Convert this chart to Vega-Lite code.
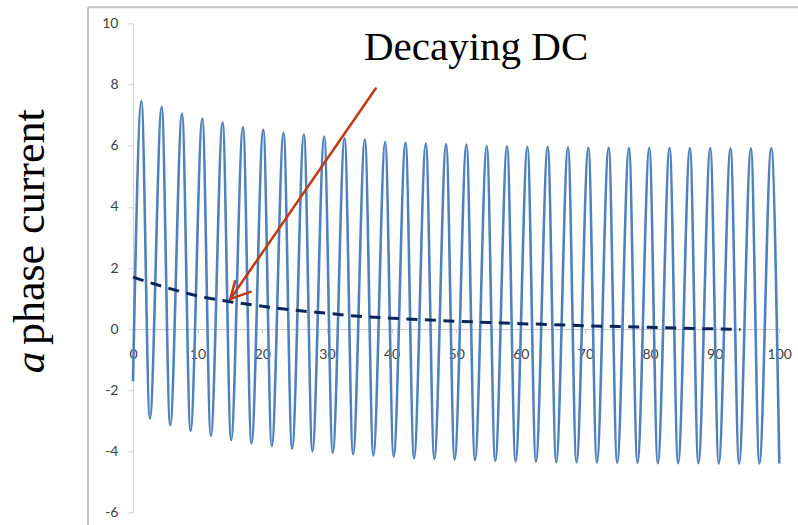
{
  "$schema": "https://vega.github.io/schema/vega-lite/v6.json",
  "autosize": {"type": "none"},
  "padding": {"left": 133, "top": 23.3, "right": 18.7, "bottom": 12.3},
  "width": 646.3,
  "height": 489.4,
  "background": "white",
  "config": {"view": {"stroke": null}},
  "datasets": {
    "wave": [
      {"t": 0, "i": -1.7},
      {"t": 1.30, "i": 7.46}, {"t": 2.61, "i": -2.92},
      {"t": 4.44, "i": 7.27}, {"t": 5.75, "i": -3.14},
      {"t": 7.59, "i": 7.05}, {"t": 8.90, "i": -3.33},
      {"t": 10.73, "i": 6.89}, {"t": 12.04, "i": -3.49},
      {"t": 13.87, "i": 6.76}, {"t": 15.18, "i": -3.63},
      {"t": 17.02, "i": 6.61}, {"t": 18.33, "i": -3.74},
      {"t": 20.16, "i": 6.53}, {"t": 21.47, "i": -3.82},
      {"t": 23.30, "i": 6.42}, {"t": 24.61, "i": -3.91},
      {"t": 26.45, "i": 6.37}, {"t": 27.76, "i": -3.99},
      {"t": 29.59, "i": 6.30}, {"t": 30.90, "i": -4.04},
      {"t": 32.74, "i": 6.24}, {"t": 34.05, "i": -4.09},
      {"t": 35.88, "i": 6.20}, {"t": 37.19, "i": -4.13},
      {"t": 39.02, "i": 6.12}, {"t": 40.33, "i": -4.17},
      {"t": 42.17, "i": 6.10}, {"t": 43.48, "i": -4.22},
      {"t": 45.31, "i": 6.07}, {"t": 46.62, "i": -4.24},
      {"t": 48.45, "i": 6.05}, {"t": 49.76, "i": -4.26},
      {"t": 51.60, "i": 6.04}, {"t": 52.91, "i": -4.28},
      {"t": 54.74, "i": 5.99}, {"t": 56.05, "i": -4.31},
      {"t": 57.88, "i": 5.99}, {"t": 59.19, "i": -4.32},
      {"t": 61.03, "i": 5.96}, {"t": 62.34, "i": -4.33},
      {"t": 64.17, "i": 5.96}, {"t": 65.48, "i": -4.35},
      {"t": 67.31, "i": 5.95}, {"t": 68.62, "i": -4.35},
      {"t": 70.46, "i": 5.94}, {"t": 71.77, "i": -4.36},
      {"t": 73.60, "i": 5.94}, {"t": 74.91, "i": -4.37},
      {"t": 76.74, "i": 5.93}, {"t": 78.05, "i": -4.37},
      {"t": 79.89, "i": 5.93}, {"t": 81.20, "i": -4.38},
      {"t": 83.03, "i": 5.93}, {"t": 84.34, "i": -4.38},
      {"t": 86.17, "i": 5.92}, {"t": 87.48, "i": -4.38},
      {"t": 89.32, "i": 5.92}, {"t": 90.63, "i": -4.39},
      {"t": 92.46, "i": 5.91}, {"t": 93.77, "i": -4.39},
      {"t": 95.61, "i": 5.91}, {"t": 96.92, "i": -4.39},
      {"t": 98.75, "i": 5.91}, {"t": 100.0, "i": -4.39}
    ],
    "dc": [
      {"t": 0, "v": 1.70}, {"t": 5, "v": 1.37}, {"t": 10, "v": 1.09},
      {"t": 15, "v": 0.90}, {"t": 20, "v": 0.75}, {"t": 25, "v": 0.62},
      {"t": 30, "v": 0.52}, {"t": 35, "v": 0.42}, {"t": 40, "v": 0.36},
      {"t": 45, "v": 0.31}, {"t": 50, "v": 0.26}, {"t": 55, "v": 0.22},
      {"t": 60, "v": 0.18}, {"t": 65, "v": 0.15}, {"t": 70, "v": 0.11},
      {"t": 75, "v": 0.09}, {"t": 80, "v": 0.06}, {"t": 85, "v": 0.03},
      {"t": 90, "v": 0.01}, {"t": 94, "v": -0.01}
    ],
    "arrow": [
      {"x": 37.55, "y": 7.87, "x2": 15.07, "y2": 0.99},
      {"x": 15.07, "y": 0.99, "x2": 15.78, "y2": 1.57},
      {"x": 15.07, "y": 0.99, "x2": 18.21, "y2": 1.22}
    ],
    "frame": [
      {"x": -6.963, "y": 10.526, "x2": -6.963, "y2": -6.41},
      {"x": -6.963, "y": 10.526, "x2": 102.9, "y2": 10.526}
    ],
    "note": [
      {"label": "Decaying DC", "x": 35.74, "y": 8.794}
    ],
    "ytitle_a": [
      {"label": "a", "x": -13.8, "y": -1.44}
    ],
    "ytitle_rest": [
      {"label": "phase current", "x": -13.8, "y": -0.52}
    ]
  },
  "layer": [
    {
      "data": {"name": "frame"},
      "mark": {"type": "rule", "color": "#c4c4c4", "strokeWidth": 2},
      "encoding": {
        "x": {"field": "x", "type": "quantitative", "scale": {"domain": [0, 100], "nice": false, "zero": false}},
        "y": {"field": "y", "type": "quantitative", "scale": {"domain": [-6, 10], "nice": false, "zero": false}},
        "x2": {"field": "x2"},
        "y2": {"field": "y2"}
      }
    },
    {
      "data": {"name": "wave"},
      "mark": {"type": "line", "color": "#4F81BD", "strokeWidth": 2.6, "interpolate": "monotone"},
      "encoding": {
        "x": {
          "field": "t", "type": "quantitative",
          "axis": {
            "title": null, "offset": -183.7, "values": [0,10,20,30,40,50,60,70,80,90,100],
            "domainColor": "#c8c8c8", "tickColor": "#c8c8c8", "tickSize": 4, "grid": false,
            "labelFont": "Lato", "labelFontSize": 14, "labelColor": "#404040", "labelPadding": 14,
            "labelFlush": false, "labelOverlap": false
          }
        },
        "y": {
          "field": "i", "type": "quantitative",
          "axis": {
            "title": null, "values": [-6,-4,-2,0,2,4,6,8,10],
            "domainColor": "#d0d0d0", "tickColor": "#d0d0d0", "tickSize": 5, "grid": false,
            "labelFont": "Lato", "labelFontSize": 14, "labelColor": "#404040", "labelPadding": 10,
            "labelExpr": "'' + datum.value", "labelFlush": false, "labelOverlap": false
          }
        }
      }
    },
    {
      "data": {"name": "dc"},
      "mark": {"type": "line", "color": "#0B2559", "strokeWidth": 3, "strokeDash": [11, 7.5], "interpolate": "monotone"},
      "encoding": {
        "x": {"field": "t", "type": "quantitative"},
        "y": {"field": "v", "type": "quantitative"}
      }
    },
    {
      "data": {"name": "arrow"},
      "mark": {"type": "rule", "color": "#BF3A11", "strokeWidth": 2.5, "strokeCap": "round"},
      "encoding": {
        "x": {"field": "x", "type": "quantitative"},
        "y": {"field": "y", "type": "quantitative"},
        "x2": {"field": "x2"},
        "y2": {"field": "y2"}
      }
    },
    {
      "data": {"name": "note"},
      "mark": {"type": "text", "font": "Liberation Serif", "fontSize": 41, "color": "#000000", "align": "left", "baseline": "alphabetic"},
      "encoding": {
        "x": {"field": "x", "type": "quantitative"},
        "y": {"field": "y", "type": "quantitative"},
        "text": {"field": "label"}
      }
    },
    {
      "data": {"name": "ytitle_a"},
      "mark": {"type": "text", "font": "Liberation Serif", "fontSize": 43, "fontStyle": "italic", "color": "#000000", "align": "left", "baseline": "alphabetic", "angle": 270},
      "encoding": {
        "x": {"field": "x", "type": "quantitative"},
        "y": {"field": "y", "type": "quantitative"},
        "text": {"field": "label"}
      }
    },
    {
      "data": {"name": "ytitle_rest"},
      "mark": {"type": "text", "font": "Liberation Serif", "fontSize": 44, "color": "#000000", "align": "left", "baseline": "alphabetic", "angle": 270},
      "encoding": {
        "x": {"field": "x", "type": "quantitative"},
        "y": {"field": "y", "type": "quantitative"},
        "text": {"field": "label"}
      }
    }
  ]
}
